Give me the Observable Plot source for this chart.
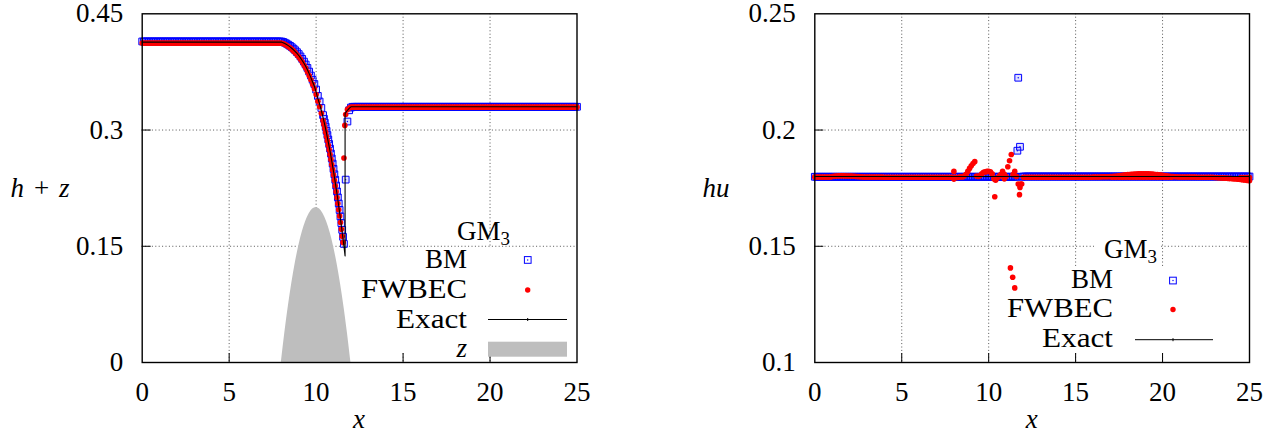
<!DOCTYPE html>
<html><head><meta charset="utf-8">
<script src="https://cdn.jsdelivr.net/npm/d3@7"></script>
<script src="https://cdn.jsdelivr.net/npm/@observablehq/plot@0.6"></script>
<style>
html,body{margin:0;padding:0;background:#fff;}
#wrap{position:relative;width:1274px;height:437px;overflow:hidden;}
#left,#right{position:absolute;top:0;width:637px;height:437px;}
#left{left:0;} #right{left:637px;}
#overlay{position:absolute;left:0;top:0;pointer-events:none;}
#overlay text{font-family:"Liberation Serif","DejaVu Serif","Noto Serif","Times New Roman",Times,serif;font-size:27px;}
</style></head><body>
<div id="wrap"><div id="left"></div><div id="right"></div>
<svg id="overlay" width="1274" height="437" xmlns="http://www.w3.org/2000/svg">
  <text x="40" y="196.7" text-anchor="middle"><tspan font-style="italic">h</tspan><tspan dx="10">+</tspan><tspan dx="10" font-style="italic">z</tspan></text>
  <text x="359" y="428" text-anchor="middle" font-style="italic">x</text>
  <rect x="355" y="247.5" width="220" height="105" fill="white"/>
  <text x="510" y="239.5" text-anchor="end">GM<tspan dy="5" font-size="19">3</tspan></text>
  <text x="467" y="268.3" text-anchor="end">BM</text>
  <text x="467" y="298.3" text-anchor="end" textLength="106" lengthAdjust="spacingAndGlyphs">FWBEC</text>
  <text x="467" y="328.3" text-anchor="end" textLength="71" lengthAdjust="spacingAndGlyphs">Exact</text>
  <text x="467" y="356.7" text-anchor="end" font-style="italic">z</text>
  <rect x="524.4" y="256.6" width="6.7" height="6.7" fill="none" stroke="#0000ff" stroke-width="1"/>
  <circle cx="527.7" cy="260" r="0.7" fill="#0000ff"/>
  <circle cx="527.7" cy="290" r="2.7" fill="#ff0000"/>
  <line x1="488" y1="319.5" x2="567" y2="319.5" stroke="black" stroke-width="1"/>
  <line x1="527.7" y1="318" x2="527.7" y2="321" stroke="black" stroke-width="1"/>
  <rect x="488" y="341.7" width="79" height="15" fill="#bebebe"/>
  <text x="716" y="196.7" text-anchor="middle" font-style="italic">hu</text>
  <text x="1031.7" y="428" text-anchor="middle" font-style="italic">x</text>
  <rect x="1025" y="266" width="222" height="86" fill="white"/>
  <rect x="1094" y="239" width="65" height="27" fill="white"/>
  <text x="1157" y="258.3" text-anchor="end">GM<tspan dy="5" font-size="19">3</tspan></text>
  <text x="1113" y="288.3" text-anchor="end">BM</text>
  <text x="1113" y="317.3" text-anchor="end" textLength="106" lengthAdjust="spacingAndGlyphs">FWBEC</text>
  <text x="1113" y="346.7" text-anchor="end" textLength="71" lengthAdjust="spacingAndGlyphs">Exact</text>
  <rect x="1169.6" y="277.2" width="6.7" height="6.7" fill="none" stroke="#0000ff" stroke-width="1"/>
  <circle cx="1173" cy="280.5" r="0.7" fill="#0000ff"/>
  <circle cx="1173" cy="309.5" r="2.7" fill="#ff0000"/>
  <line x1="1135" y1="339.7" x2="1213" y2="339.7" stroke="black" stroke-width="1"/>
  <line x1="1173" y1="338.2" x2="1173" y2="341.2" stroke="black" stroke-width="1"/>
</svg></div>
<script>
// ---------- axes ----------
const xTicks = [0, 5, 10, 15, 20, 25];
const xTickLabels = ["0", "5", "10", "15", "20", "25"];
const xGridLines = [5, 10, 15, 20];
const yTicksLeft = [0, 0.15, 0.3, 0.45];
const yTickLabelsLeft = ["0", "0.15", "0.3", "0.45"];
const yGridLeft = [0.15, 0.3];
const yTicksRight = [0.1, 0.15, 0.2, 0.25];
const yTickLabelsRight = ["0.1", "0.15", "0.2", "0.25"];
const yGridRight = [0.15, 0.2];

// ---------- numerical mesh (cell centres, spacing 0.1) ----------
const xGrid = d3.range(251).map(i => i / 10);

// ---------- left panel: h + z ----------
const bmLeftY = [
0.4143,0.4143,0.4143,0.4143,0.4143,0.4143,0.4143,0.4143,0.4143,0.4143,
0.4143,0.4143,0.4143,0.4143,0.4143,0.4143,0.4143,0.4143,0.4143,0.4143,
0.4143,0.4143,0.4143,0.4143,0.4143,0.4143,0.4143,0.4143,0.4143,0.4143,
0.4143,0.4143,0.4143,0.4143,0.4143,0.4143,0.4143,0.4143,0.4143,0.4143,
0.4143,0.4143,0.4143,0.4143,0.4143,0.4143,0.4143,0.4143,0.4143,0.4143,
0.4143,0.4143,0.4143,0.4143,0.4143,0.4143,0.4143,0.4143,0.4143,0.4143,
0.4143,0.4143,0.4143,0.4143,0.4143,0.4143,0.4143,0.4143,0.4143,0.4143,
0.4143,0.4143,0.4143,0.4143,0.4143,0.4143,0.4143,0.4143,0.4143,0.4143,
0.4143,0.4137,0.4127,0.4115,0.4101,0.4086,0.4069,0.4050,0.4029,0.4005,
0.3980,0.3950,0.3918,0.3883,0.3845,0.3802,0.3754,0.3703,0.3649,0.3594,
0.3522,0.3440,0.3368,0.3285,0.3193,0.3095,0.2990,0.2878,0.2760,0.2633,
0.2499,0.2358,0.2208,0.2052,0.1885,0.1712,0.1530,0.2360,0.3110,0.3255,
0.3290,0.33,0.33,0.33,0.33,0.33,0.33,0.33,0.33,0.33,
0.33,0.33,0.33,0.33,0.33,0.33,0.33,0.33,0.33,0.33,
0.33,0.33,0.33,0.33,0.33,0.33,0.33,0.33,0.33,0.33,
0.33,0.33,0.33,0.33,0.33,0.33,0.33,0.33,0.33,0.33,
0.33,0.33,0.33,0.33,0.33,0.33,0.33,0.33,0.33,0.33,
0.33,0.33,0.33,0.33,0.33,0.33,0.33,0.33,0.33,0.33,
0.33,0.33,0.33,0.33,0.33,0.33,0.33,0.33,0.33,0.33,
0.33,0.33,0.33,0.33,0.33,0.33,0.33,0.33,0.33,0.33,
0.33,0.33,0.33,0.33,0.33,0.33,0.33,0.33,0.33,0.33,
0.33,0.33,0.33,0.33,0.33,0.33,0.33,0.33,0.33,0.33,
0.33,0.33,0.33,0.33,0.33,0.33,0.33,0.33,0.33,0.33,
0.33,0.33,0.33,0.33,0.33,0.33,0.33,0.33,0.33,0.33,
0.33,0.33,0.33,0.33,0.33,0.33,0.33,0.33,0.33,0.33,
0.33];
const bmLeftExtraX = [10.45,10.55,10.65,10.75,10.85,10.95,11.05,11.15,11.25,11.35,11.45,11.55];
const bmLeftExtraY = [0.3145,0.3043,0.2935,0.2820,0.2697,0.2567,0.2429,0.2284,0.2131,0.1969,0.1799,0.1622];

const fwLeftY = [
0.4122,0.4122,0.4122,0.4122,0.4122,0.4122,0.4122,0.4122,0.4122,0.4122,
0.4122,0.4122,0.4122,0.4122,0.4122,0.4122,0.4122,0.4122,0.4122,0.4122,
0.4122,0.4122,0.4122,0.4122,0.4122,0.4122,0.4122,0.4122,0.4122,0.4122,
0.4122,0.4122,0.4122,0.4122,0.4122,0.4122,0.4122,0.4122,0.4122,0.4122,
0.4122,0.4122,0.4122,0.4122,0.4122,0.4122,0.4122,0.4122,0.4122,0.4122,
0.4122,0.4122,0.4122,0.4122,0.4122,0.4122,0.4122,0.4122,0.4122,0.4122,
0.4122,0.4122,0.4122,0.4122,0.4122,0.4122,0.4122,0.4122,0.4122,0.4122,
0.4122,0.4122,0.4122,0.4122,0.4122,0.4122,0.4122,0.4122,0.4122,0.4122,
0.4122,0.4117,0.4106,0.4093,0.4078,0.4061,0.4042,0.4021,0.3998,0.3972,
0.3945,0.3912,0.3878,0.3840,0.3799,0.3753,0.3702,0.3648,0.3591,0.3533,
0.3457,0.3372,0.3300,0.3215,0.3122,0.3022,0.2917,0.2803,0.2684,0.2556,
0.2421,0.2279,0.2130,0.1972,0.1806,0.1630,0.2640,0.3200,0.3265,0.3285,
0.3295,0.3295,0.3295,0.3295,0.3295,0.3295,0.3295,0.3295,0.3295,0.3295,
0.3295,0.3295,0.3295,0.3295,0.3295,0.3295,0.3295,0.3295,0.3295,0.3295,
0.3295,0.3295,0.3295,0.3295,0.3295,0.3295,0.3295,0.3295,0.3295,0.3295,
0.3295,0.3295,0.3295,0.3295,0.3295,0.3295,0.3295,0.3295,0.3295,0.3295,
0.3295,0.3295,0.3295,0.3295,0.3295,0.3295,0.3295,0.3295,0.3295,0.3295,
0.3295,0.3295,0.3295,0.3295,0.3295,0.3295,0.3295,0.3295,0.3295,0.3295,
0.3295,0.3295,0.3295,0.3295,0.3295,0.3295,0.3295,0.3295,0.3295,0.3295,
0.3295,0.3295,0.3295,0.3295,0.3295,0.3295,0.3295,0.3295,0.3295,0.3295,
0.3295,0.3295,0.3295,0.3295,0.3295,0.3295,0.3295,0.3295,0.3295,0.3295,
0.3295,0.3295,0.3295,0.3295,0.3295,0.3295,0.3295,0.3295,0.3295,0.3295,
0.3295,0.3295,0.3295,0.3295,0.3295,0.3295,0.3295,0.3295,0.3295,0.3295,
0.3295,0.3295,0.3295,0.3295,0.3295,0.3295,0.3295,0.3295,0.3295,0.3295,
0.3295,0.3295,0.3295,0.3295,0.3295,0.3295,0.3295,0.3295,0.3295,0.3295,
0.3295];
const fwLeftExtraX = [10.45,10.55,10.65,10.75,10.85,10.95,11.05,11.15,11.25,11.35,11.45,11.55,11.65];
const fwLeftExtraY = [0.3073,0.2970,0.2861,0.2744,0.2621,0.2489,0.2351,0.2205,0.2052,0.1890,0.1719,0.1550,0.3060];

const exactLeftX = [0,8,8.1,8.2,8.3,8.4,8.5,8.6,8.7,8.8,8.9,9,9.1,9.2,9.3,9.4,9.5,9.6,9.7,9.8,9.9,10,
  10.1,10.2,10.3,10.4,10.5,10.6,10.7,10.8,10.9,11,11.1,11.2,11.3,11.4,11.5,11.6,11.665,11.665,11.7,11.8,11.9,12,25];
const exactLeftY = [0.4135,0.4135,0.4127,0.4116,0.4103,0.4089,0.4073,0.4055,0.4035,0.4013,0.3988,0.3962,
  0.3931,0.3898,0.3862,0.3822,0.3778,0.3728,0.3676,0.362,0.3565,0.3489,
  0.3405,0.3336,0.3252,0.316,0.3062,0.2958,0.2845,0.2727,0.26,0.2466,0.2325,0.2176,0.202,0.1853,0.168,0.1497,
  0.1375,0.3215,0.3225,0.3255,0.328,0.33,0.33];

const bumpX = [8,8.2,8.4,8.6,8.8,9,9.2,9.4,9.6,9.8,10,10.2,10.4,10.6,10.8,11,11.2,11.4,11.6,11.8,12];
const bumpZ = [0,0.038,0.072,0.102,0.128,0.15,0.168,0.182,0.192,0.198,0.2,0.198,0.192,0.182,0.168,0.15,0.128,0.102,0.072,0.038,0];

// ---------- right panel: hu ----------
const bmRightY = [
0.1799,0.1799,0.1799,0.1799,0.1799,0.1799,0.1799,0.1799,0.1799,0.1799,
0.1799,0.1799,0.1799,0.1799,0.1799,0.1799,0.1799,0.1799,0.1799,0.1799,
0.1799,0.1799,0.1799,0.1799,0.1799,0.1799,0.1799,0.1799,0.1799,0.1799,
0.1799,0.1799,0.1799,0.1799,0.1799,0.1799,0.1799,0.1799,0.1799,0.1799,
0.1799,0.1799,0.1799,0.1799,0.1799,0.1799,0.1799,0.1799,0.1799,0.1799,
0.1799,0.1799,0.1799,0.1799,0.1799,0.1799,0.1799,0.1799,0.1799,0.1799,
0.1799,0.1799,0.1799,0.1799,0.1799,0.1799,0.1799,0.1799,0.1799,0.1799,
0.1799,0.1799,0.1799,0.1799,0.1799,0.1799,0.1799,0.1799,0.1799,0.1799,
0.1799,0.1799,0.1799,0.1799,0.1799,0.1799,0.1799,0.1799,0.1799,0.1799,
0.1799,0.1799,0.1799,0.1799,0.1799,0.1799,0.1799,0.1799,0.1799,0.1799,
0.1799,0.1799,0.1799,0.1799,0.1799,0.1799,0.1799,0.1799,0.1799,0.1799,
0.1799,0.1799,0.1799,0.1799,0.1799,0.1799,0.1799,0.2225,0.1928,0.1799,
0.18,0.18,0.18,0.18,0.18,0.18,0.18,0.18,0.18,0.18,
0.18,0.18,0.18,0.18,0.18,0.18,0.18,0.18,0.18,0.18,
0.18,0.18,0.18,0.18,0.18,0.18,0.18,0.18,0.18,0.18,
0.18,0.18,0.18,0.18,0.18,0.18,0.18,0.18,0.18,0.18,
0.18,0.18,0.18,0.18,0.18,0.18,0.18,0.18,0.18,0.18,
0.18,0.18,0.18,0.18,0.18,0.18,0.18,0.18,0.18,0.18,
0.18,0.18,0.18,0.18,0.18,0.18,0.18,0.18,0.18,0.18,
0.18,0.18,0.18,0.18,0.18,0.18,0.18,0.18,0.18,0.18,
0.18,0.18,0.18,0.18,0.18,0.18,0.18,0.18,0.18,0.18,
0.18,0.18,0.18,0.18,0.18,0.18,0.18,0.18,0.18,0.18,
0.18,0.18,0.18,0.18,0.18,0.18,0.18,0.18,0.18,0.18,
0.18,0.18,0.18,0.18,0.18,0.18,0.18,0.18,0.18,0.18,
0.18,0.18,0.18,0.18,0.18,0.18,0.18,0.18,0.18,0.18,
0.18];
const bmRightExtraX = [11.65];
const bmRightExtraY = [0.1911];

const fwRightY = [
0.1798,0.1798,0.1798,0.1798,0.1798,0.1798,0.1798,0.1798,0.1798,0.1798,
0.1800,0.1801,0.1802,0.1802,0.1803,0.1803,0.1803,0.1803,0.1802,0.1802,
0.1802,0.1802,0.1801,0.1801,0.1800,0.1800,0.1799,0.1799,0.1798,0.1798,
0.1798,0.1798,0.1798,0.1798,0.1798,0.1798,0.1798,0.1798,0.1798,0.1798,
0.1797,0.1797,0.1797,0.1797,0.1797,0.1797,0.1797,0.1797,0.1797,0.1797,
0.1797,0.1797,0.1797,0.1797,0.1797,0.1797,0.1797,0.1797,0.1797,0.1797,
0.1797,0.1797,0.1797,0.1797,0.1797,0.1797,0.1797,0.1797,0.1797,0.1797,
0.1797,0.1797,0.1797,0.1797,0.1797,0.1797,0.1797,0.1797,0.1797,0.1797,
0.1822,0.1797,0.1796,0.1797,0.1800,0.1798,0.1803,0.1810,0.1822,0.1835,
0.1846,0.1856,0.1864,0.1802,0.1800,0.1804,0.1812,0.1818,0.1820,0.1822,
0.1823,0.1820,0.1812,0.1790,0.1784,0.1795,0.1800,0.1808,0.1822,0.1810,
0.1800,0.1842,0.1868,0.1895,0.1808,0.1822,0.1800,0.1768,0.1753,0.1768,
0.1797,0.1797,0.1797,0.1797,0.1797,0.1797,0.1797,0.1797,0.1797,0.1797,
0.1797,0.1797,0.1797,0.1797,0.1797,0.1797,0.1797,0.1797,0.1797,0.1797,
0.1797,0.1797,0.1797,0.1797,0.1797,0.1797,0.1797,0.1797,0.1797,0.1797,
0.1797,0.1797,0.1797,0.1797,0.1797,0.1797,0.1797,0.1797,0.1797,0.1797,
0.1798,0.1798,0.1798,0.1798,0.1798,0.1799,0.1799,0.1799,0.1799,0.1799,
0.1800,0.1800,0.1801,0.1801,0.1802,0.1803,0.1804,0.1805,0.1806,0.1807,
0.1808,0.1809,0.1810,0.1810,0.1811,0.1811,0.1812,0.1812,0.1812,0.1812,
0.1812,0.1812,0.1812,0.1811,0.1811,0.1810,0.1809,0.1808,0.1807,0.1806,
0.1805,0.1804,0.1803,0.1802,0.1801,0.1800,0.1800,0.1799,0.1799,0.1798,
0.1798,0.1798,0.1798,0.1798,0.1798,0.1798,0.1798,0.1798,0.1798,0.1798,
0.1797,0.1797,0.1797,0.1797,0.1797,0.1797,0.1797,0.1797,0.1797,0.1797,
0.1796,0.1796,0.1795,0.1795,0.1794,0.1794,0.1793,0.1793,0.1792,0.1792,
0.1791,0.1790,0.1790,0.1789,0.1788,0.1787,0.1786,0.1785,0.1784,0.1783,
0.1782];
const fwRightExtraX = [8.0,10.35,11.25,11.38,11.5,11.77,11.85,10.9,10.65,
  17.1,17.3,17.5,17.7,17.9,18.1,18.3,18.5,18.7,18.9,19.1,19.3,19.5,19.7,19.9,20.1,20.3,20.5,
  24.5,24.6,24.7,24.8,24.9,25.0];
const fwRightExtraY = [0.1789,0.1713,0.1407,0.1367,0.1321,0.1722,0.1768,0.1790,0.1805,
  0.1797,0.1797,0.1797,0.1797,0.1797,0.1797,0.1797,0.1797,0.1797,0.1797,0.1797,0.1797,0.1797,0.1797,0.1797,0.1797,0.1797,0.1797,
  0.1796,0.1796,0.1796,0.1796,0.1796,0.1796];

const exactRightX = [0, 25];
const exactRightY = [0.18, 0.18];

// ---------- build tables ----------
const pts = (xs, ys) => xs.map((x, i) => ({x, y: ys[i]}));
const bmLeft = pts(xGrid, bmLeftY).concat(pts(bmLeftExtraX, bmLeftExtraY));
const fwLeft = pts(xGrid, fwLeftY).concat(pts(fwLeftExtraX, fwLeftExtraY));
const exactLeft = pts(exactLeftX, exactLeftY);
const bump = pts(bumpX, bumpZ);
const bmRight = pts(xGrid, bmRightY).concat(pts(bmRightExtraX, bmRightExtraY));
const fwRight = pts(xGrid, fwRightY).concat(pts(fwRightExtraX, fwRightExtraY));
const exactRight = pts(exactRightX, exactRightY);

const W = 637, H = 437, MT = 13.3, MB = 75, TICK = 9;
const BLUE = "#0000ff", RED = "#ff0000";
const SERIF = '"Liberation Serif", "DejaVu Serif", "Noto Serif", "Times New Roman", Times, serif';

function panel({ml, mr, yDomain, yTicks, yLabels, yGrid, under, bm, fw, exact}) {
  const plotH = H - MT - MB, plotW = W - ml - mr;
  return Plot.plot({
    width: W, height: H,
    marginLeft: ml, marginRight: mr, marginTop: MT, marginBottom: MB,
    x: {domain: [0, 25]},
    y: {domain: yDomain},
    style: {fontFamily: SERIF, fontSize: "27px", background: "white", color: "black", overflow: "visible", maxWidth: "none"},
    marks: [
      Plot.ruleX(xGridLines, {x: d => d, stroke: "#555", strokeWidth: 1, strokeDasharray: "1,2.4"}),
      Plot.ruleY(yGrid, {y: d => d, stroke: "#555", strokeWidth: 1, strokeDasharray: "1,2.4"}),
      Plot.ruleX(xGridLines, {x: d => d, stroke: "black", strokeWidth: 1, insetTop: plotH - TICK}),
      Plot.ruleY(yGrid, {y: d => d, stroke: "black", strokeWidth: 1, insetRight: plotW - TICK}),
      ...under,
      Plot.dot(bm, {x: "x", y: "y", symbol: "square", r: 3.8, stroke: BLUE, strokeWidth: 1, fill: BLUE, fillOpacity: 0.12}),
      Plot.dot(bm, {x: "x", y: "y", r: 0.7, fill: BLUE, stroke: "none"}),
      Plot.dot(fw, {x: "x", y: "y", r: 2.8, fill: RED, stroke: "none"}),
      Plot.line(exact, {x: "x", y: "y", stroke: "black", strokeWidth: 1.1}),
      Plot.frame({stroke: "black", strokeWidth: 1.4}),
      Plot.axisX({ticks: xTicks, tickSize: 0, tickPadding: 19, label: null, fontSize: 27, fontFamily: SERIF,
        tickFormat: d => xTickLabels[xTicks.indexOf(d)]}),
      Plot.axisY({ticks: yTicks, tickSize: 0, tickPadding: 19, label: null, fontSize: 27, fontFamily: SERIF,
        tickFormat: d => yLabels[yTicks.indexOf(d)]})
    ]
  });
}

document.getElementById("left").appendChild(panel({
  ml: 141.7, mr: 60.5, yDomain: [0, 0.45], yTicks: yTicksLeft, yLabels: yTickLabelsLeft, yGrid: yGridLeft,
  under: [Plot.areaY(bump, {x: "x", y: "y", fill: "#bebebe", curve: "natural"})],
  bm: bmLeft, fw: fwLeft, exact: exactLeft
}));
document.getElementById("right").appendChild(panel({
  ml: 177.3, mr: 25, yDomain: [0.1, 0.25], yTicks: yTicksRight, yLabels: yTickLabelsRight, yGrid: yGridRight,
  under: [],
  bm: bmRight, fw: fwRight, exact: exactRight
}));
</script>
</body></html>
